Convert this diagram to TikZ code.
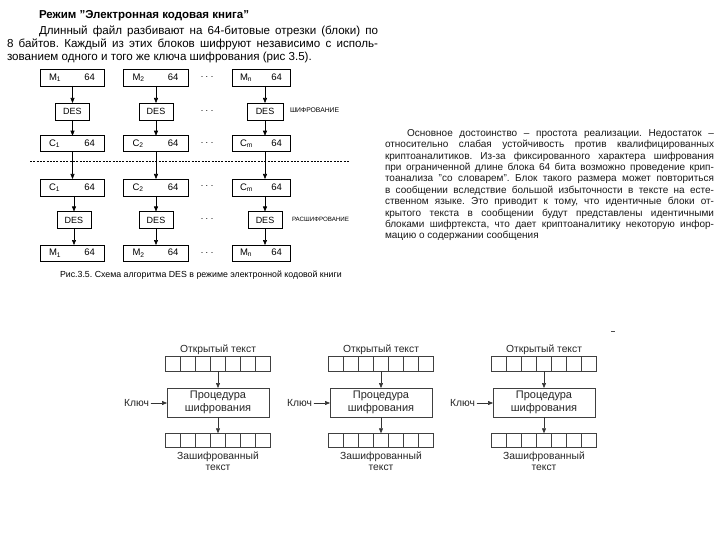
\documentclass[tikz,border=0pt]{standalone}
\usepackage{fontspec}
\setmainfont{Liberation Sans}
\usetikzlibrary{arrows.meta}
\begin{document}
\frenchspacing
\begin{tikzpicture}[x=1pt,y=-1pt,
  every node/.style={inner sep=0pt, outer sep=0pt},
  mbox/.style={draw, line width=0.6pt, minimum height=17pt, font=\fontsize{9.5}{10}\selectfont},
  desbox/.style={draw, line width=0.6pt, minimum width=34pt, minimum height=17pt, font=\fontsize{9}{9}\selectfont},
  arr/.style={-{Triangle[length=5pt,width=4pt]}, line width=0.6pt},
  dotsn/.style={font=\fontsize{9}{9}\selectfont},
  smalllbl/.style={font=\fontsize{6.8}{7}\selectfont, anchor=west},
  toptext/.style={anchor=base west, font=\fontsize{11.6}{13}\selectfont},
  righttext/.style={anchor=base west, font=\fontsize{10}{11}\selectfont, text=black!90},
  cell/.style={draw=black!75, line width=0.6pt, minimum width=15pt, minimum height=14.5pt},
  proc/.style={draw=black!75, line width=0.6pt, minimum width=102pt, minimum height=29pt, align=center, font=\fontsize{11}{13}\selectfont, text=black!85},
  lbl/.style={font=\fontsize{10.3}{11}\selectfont, text=black!85},
  garr/.style={-{Triangle[length=5pt,width=4pt]}, line width=0.6pt, draw=black!80, fill=black!80}
]
\fill[white] (0,0) rectangle (720,540);
\useasboundingbox (0,0) rectangle (720,540);

% ---- top-left text ----
\node[anchor=base west, font=\bfseries\fontsize{11.5}{12}\selectfont] (title) at (39,18.5) {Режим "Электронная кодовая книга"};
\node[toptext] (tl2) at (39,35) {\makebox[339pt][s]{Длинный файл разбивают на 64-битовые отрезки (блоки) по}};
\node[toptext] (tl3) at (7,48) {\makebox[371pt][s]{8 байтов. Каждый из этих блоков шифруют независимо с исполь-}};
\node[toptext] (tl4) at (7,61) {зованием одного и того же ключа шифрования (рис 3.5).};

% ---- ECB diagram ----
% column 1
\node[mbox, minimum width=64pt] (m1) at (72,77.5) {\makebox[46pt]{M\textsubscript{1}\hfill 64}};
\node[desbox] (d1) at (72.5,111.5) {DES};
\node[mbox, minimum width=64pt, minimum height=15.5pt] (c1) at (72,143.5) {\makebox[46pt]{C\textsubscript{1}\hfill 64}};
\node[mbox, minimum width=64pt] (cc1) at (72,187.5) {\makebox[46pt]{C\textsubscript{1}\hfill 64}};
\node[desbox] (dd1) at (74,220) {DES};
\node[mbox, minimum width=64pt, minimum height=16pt] (mm1) at (72,253) {\makebox[46pt]{M\textsubscript{1}\hfill 64}};
% column 2
\node[mbox, minimum width=65pt] (m2) at (155.5,77.5) {\makebox[46pt]{M\textsubscript{2}\hfill 64}};
\node[desbox] (d2) at (156,111.5) {DES};
\node[mbox, minimum width=65pt, minimum height=15.5pt] (c2) at (155.5,143.5) {\makebox[46pt]{C\textsubscript{2}\hfill 64}};
\node[mbox, minimum width=65pt] (cc2) at (155.5,187.5) {\makebox[46pt]{C\textsubscript{2}\hfill 64}};
\node[desbox] (dd2) at (156,220) {DES};
\node[mbox, minimum width=65pt, minimum height=16pt] (mm2) at (155.5,253) {\makebox[46pt]{M\textsubscript{2}\hfill 64}};
% column 3
\node[mbox, minimum width=58pt] (m3) at (261,77.5) {\makebox[42pt]{M\textsubscript{n}\hfill 64}};
\node[desbox, minimum width=36pt] (d3) at (265,111.5) {DES};
\node[mbox, minimum width=58pt, minimum height=15.5pt] (c3) at (261,143.5) {\makebox[42pt]{C\textsubscript{m}\hfill 64}};
\node[mbox, minimum width=58pt] (cc3) at (261,187.5) {\makebox[42pt]{C\textsubscript{m}\hfill 64}};
\node[desbox] (dd3) at (265,220) {DES};
\node[mbox, minimum width=58pt, minimum height=16pt] (mm3) at (261,253) {\makebox[42pt]{M\textsubscript{n}\hfill 64}};

\foreach \k in {1,2,3} {
  \draw[arr] (m\k.south -| d\k.north) -- (d\k.north);
  \draw[arr] (d\k.south) -- (c\k.north -| d\k.south);
  \draw[arr] (c\k.south -| d\k.south) -- (cc\k.north -| d\k.south);
  \draw[arr] (cc\k.south -| dd\k.north) -- (dd\k.north);
  \draw[arr] (dd\k.south) -- (mm\k.north -| dd\k.south);
}

% dots
\foreach \yy/\nm in {77/a,111/b,143/c,186/d,219/e,253/f} {
  \node[dotsn] (dots\nm) at (207,\yy) {. . .};
}

% dashed separator
\coordinate (dashL) at (30,161);
\coordinate (dashR) at (350,161);
\draw[line width=0.6pt, dash pattern=on 2pt off 1.3pt] (dashL) -- (dashR);

\node[smalllbl] (enc) at (290,110) {ШИФРОВАНИЕ};
\node[smalllbl, font=\fontsize{6.2}{7}\selectfont] (dec) at (292,219) {РАСШИФРОВАНИЕ};

\node[anchor=base west, font=\fontsize{8.8}{10}\selectfont] (cap) at (60,277) {Рис.3.5. Схема алгоритма DES в режиме электронной кодовой книги};

% ---- right paragraph ----
\node[righttext] (r1) at (407,136.5) {\makebox[307pt][s]{Основное достоинство – простота реализации. Недостаток –}};
\node[righttext] (r2) at (385,147.8) {\makebox[329pt][s]{относительно слабая устойчивость против квалифицированных}};
\node[righttext] (r3) at (385,159.1) {\makebox[329pt][s]{криптоаналитиков. Из-за фиксированного характера шифрования}};
\node[righttext] (r4) at (385,170.4) {\makebox[329pt][s]{при ограниченной длине блока 64 бита возможно проведение крип-}};
\node[righttext] (r5) at (385,181.7) {\makebox[329pt][s]{тоанализа "со словарем". Блок такого размера может повториться}};
\node[righttext] (r6) at (385,193.3) {\makebox[329pt][s]{в сообщении вследствие большой избыточности в тексте на есте-}};
\node[righttext] (r7) at (385,204.8) {\makebox[329pt][s]{ственном языке. Это приводит к тому, что идентичные блоки от-}};
\node[righttext] (r8) at (385,216.1) {\makebox[329pt][s]{крытого текста в сообщении будут представлены идентичными}};
\node[righttext] (r9) at (385,227.4) {\makebox[329pt][s]{блоками шифртекста, что дает криптоаналитику некоторую инфор-}};
\node[righttext] (r10) at (385,238.7) {мацию о содержании сообщения};

% ---- bottom: three encryption units ----
\foreach \i/\cx in {1/218,2/381,3/544} {
  \foreach \j in {0,...,6} {
    \node[cell] (t\i\j) at ({\cx-45+15*\j},364) {};
    \node[cell] (b\i\j) at ({\cx-45+15*\j},440.5) {};
  }
  \node[lbl] (o\i) at (\cx,350) {Открытый текст};
  \node[proc] (p\i) at (\cx,402.5) {Процедура\\шифрования};
  \node[lbl, anchor=east] (k\i) at ({\cx-69},403) {Ключ};
  \draw[garr, shorten <=1.5pt] (k\i.east) -- (p\i.west |- k\i.east);
  \draw[garr] (t\i3.south) -- (p\i.north);
  \draw[garr] (p\i.south) -- (b\i3.north);
  \node[lbl, align=center, font=\fontsize{10.3}{11}\selectfont] (z\i) at (\cx,461.5) {Зашифрованный\\текст};
}

% stray mark
\draw[line width=0.6pt, black!70] (611,331) -- (615,331);
\end{tikzpicture}
\end{document}
